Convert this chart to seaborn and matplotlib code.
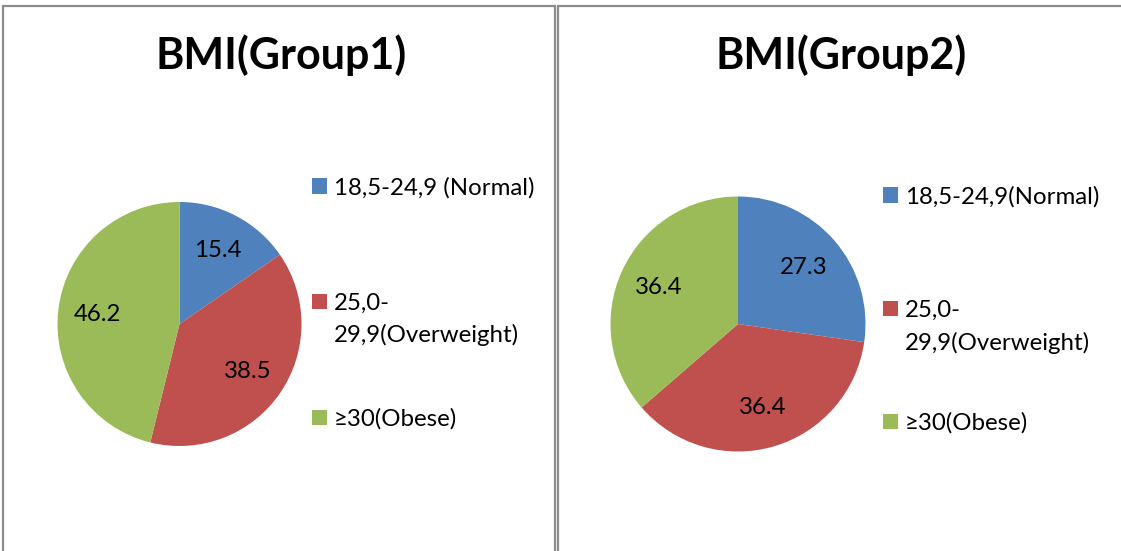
import matplotlib
matplotlib.use("Agg")
import matplotlib.pyplot as plt
from matplotlib.patches import Rectangle
import seaborn as sns

# BMI distribution (%) per group
categories = ["18,5-24,9 (Normal)", "25,0-\n29,9(Overweight)", "≥30(Obese)"]
categories_g2 = ["18,5-24,9(Normal)", "25,0-\n29,9(Overweight)", "≥30(Obese)"]
group1_values = [15.4, 38.5, 46.2]
group2_values = [27.3, 36.4, 36.4]
titles = ["BMI(Group1)", "BMI(Group2)"]

sns.set_theme(style="white")
plt.rcParams["font.family"] = ["Lato", "DejaVu Sans"]
palette = sns.color_palette(["#4F81BD", "#C0504D", "#9BBB59"])

W, H = 1121, 551
fig = plt.figure(figsize=(W / 100, H / 100), dpi=100)
fig.patch.set_facecolor("white")


def fx(x):
    return x / W


def fy(y):
    return 1 - y / H


# chart-area frames
border = "#8c8c8c"
for (x0, x1) in [(3, 555), (558, 1135)]:
    fig.add_artist(Rectangle((fx(x0), fy(560)), fx(x1 - x0), (560 - 6) / H,
                             transform=fig.transFigure, fill=False,
                             edgecolor=border, linewidth=1.6, clip_on=False))

panels = [
    dict(values=group1_values, labels=categories, title=titles[0], cx=179.5, cy=324, r=122,
         tx=281, sq_x=312, text_x=334, rows=[186, 301, 417.5]),
    dict(values=group2_values, labels=categories_g2, title=titles[1], cx=738, cy=324, r=127.5,
         tx=841, sq_x=883, text_x=905, rows=[195, 308, 421]),
]

label_size = 17.3
for p in panels:
    r = p["r"]
    ax = fig.add_axes([fx(p["cx"] - r), fy(p["cy"] + r), 2 * r / W, 2 * r / H])
    vals = p["values"]
    total = sum(vals)
    wedges, texts, autotexts = ax.pie(
        vals, colors=palette, startangle=90, counterclock=False, radius=1,
        autopct=lambda pct, t=total: f"{pct * t / 100:.1f}", pctdistance=0.68,
        wedgeprops=dict(linewidth=0), textprops=dict(fontsize=label_size, color="black"))
    ax.set_xlim(-1, 1)
    ax.set_ylim(-1, 1)
    ax.set_aspect("equal")
    ax.axis("off")

    fig.text(fx(p["tx"]), fy(69), p["title"], ha="center", va="baseline",
             fontsize=31, fontweight="bold", color="black")

    # legend entries
    for lab, color, cy in zip(p["labels"], palette, p["rows"]):
        s = 15
        fig.add_artist(Rectangle((fx(p["sq_x"]), fy(cy + s / 2)), s / W, s / H,
                                 transform=fig.transFigure, facecolor=color,
                                 edgecolor="none"))
        for k, line in enumerate(lab.split("\n")):
            fig.text(fx(p["text_x"]), fy(cy + 8.5 + 33 * k), line, ha="left",
                     va="baseline", fontsize=label_size, color="black")

fig.savefig("out.png", dpi=100, facecolor="white")
